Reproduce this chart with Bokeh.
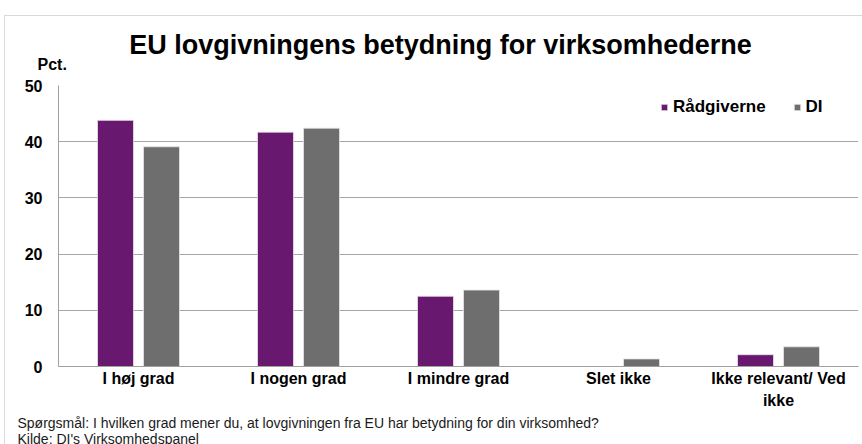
from bokeh.plotting import figure
from bokeh.models import (Range1d, FactorRange, Legend, LegendItem, Title,
                          FixedTicker, ColumnDataSource)
from bokeh.transform import dodge
from bokeh.embed import file_html
from bokeh.resources import INLINE

# ---- data ----
categories = ["I høj grad", "I nogen grad", "I mindre grad", "Slet ikke",
              "Ikke relevant/ Ved\nikke"]
raadgiverne = [43.8, 41.7, 12.5, 0.0, 2.1]
di = [39.1, 42.4, 13.6, 1.35, 3.5]
series_names = ["Rådgiverne", "DI"]
y_ticks = [0, 10, 20, 30, 40, 50]
title_text = "EU lovgivningens betydning for virksomhederne"
y_unit_text = "Pct."
footnotes = ["Spørgsmål: I hvilken grad mener du, at lovgivningen fra EU har betydning for din virksomhed?",
             "Kilde: DI's Virksomhedspanel"]

PURPLE = "#68196F"
GREY = "#6E6E6E"
FONT = "Liberation Sans"

# figure sits at page (-8, -8) so that it covers the whole 862x444 window
OFF = 8
W, H = 862 + OFF, 444 + OFF
FL, FR, FT, FB = 58 + OFF, 858 + OFF, 85 + OFF, 367 + OFF  # frame edges in figure px

source = ColumnDataSource(dict(cat=categories, r=raadgiverne, d=di))

p = figure(x_range=FactorRange(*categories), y_range=Range1d(0, 50),
           width=W, height=H, output_backend="svg", toolbar_location=None,
           min_border_left=FL, min_border_right=W - FR,
           min_border_top=FT, min_border_bottom=H - FB,
           title=title_text)
p.margin = (-8, -8, -8, -8)
p.outline_line_color = None
p.background_fill_color = "white"
p.border_fill_color = "white"
p.border_fill_alpha = 0
p.styles = {"background": "linear-gradient(#D9D9D9,#D9D9D9) 12px 23px/1px 100% no-repeat, "
                          "linear-gradient(#D9D9D9,#D9D9D9) 12px 23px/100% 1px no-repeat, white"}

xs = (FR - FL) / len(categories)
bw = 36 / xs
off = 23 / xs
r1 = p.vbar(x=dodge("cat", -off, range=p.x_range), top="r", width=bw, source=source,
            fill_color=PURPLE, line_color="#E6E6E6", line_width=0.8)
r2 = p.vbar(x=dodge("cat", off, range=p.x_range), top="d", width=bw, source=source,
            fill_color=GREY, line_color="#E6E6E6", line_width=0.8)

# axes
p.yaxis.ticker = FixedTicker(ticks=y_ticks)
p.yaxis.major_tick_line_color = None
p.yaxis.major_tick_out = 0
p.yaxis.major_tick_in = 0
p.yaxis.minor_tick_line_color = None
p.yaxis.axis_line_color = "#A0A0A0"
p.yaxis.major_label_text_font = FONT
p.yaxis.major_label_text_font_style = "bold"
p.yaxis.major_label_text_font_size = "16px"
p.yaxis.major_label_text_color = "black"
p.yaxis.major_label_standoff = 16

p.xaxis.major_tick_line_color = None
p.xaxis.major_tick_out = 0
p.xaxis.major_tick_in = 0
p.xaxis.axis_line_color = "#A0A0A0"
p.xaxis.major_label_text_font = FONT
p.xaxis.major_label_text_font_style = "bold"
p.xaxis.major_label_text_font_size = "16px"
p.xaxis.major_label_text_color = "black"
p.xaxis.major_label_standoff = 3
p.xaxis.major_label_text_line_height = 1.35

p.xgrid.grid_line_color = None
p.ygrid.grid_line_color = "#A6A6A6"
p.ygrid.grid_line_width = 1

# main title (outer panel), "Pct." (inner panel)
title_font_px = 27
title_w = 23.06 * title_font_px
p.title.align = "left"
p.title.offset = 440 - title_w / 2 - 58
p.title.standoff = -31
p.title.vertical_align = "bottom"
p.title.text_font = FONT
p.title.text_font_style = "bold"
p.title.text_font_size = f"{title_font_px}px"
p.title.text_color = "black"

p.add_layout(Title(text=y_unit_text, align="left", offset=37 - 58, standoff=22,
                   vertical_align="top", text_font=FONT, text_font_style="bold",
                   text_font_size="16px", text_color="black"), "above")

for t, s in zip(footnotes, [0, -4.5]):
    p.add_layout(Title(text=t, align="left", offset=17 - 58, standoff=s,
                       text_font=FONT, text_font_style="normal",
                       text_font_size="14px", text_color="#1A1A1A"), "below")

legend = Legend(items=[LegendItem(label=series_names[0], renderers=[r1]),
                       LegendItem(label=series_names[1], renderers=[r2])],
                orientation="horizontal", location=(660 - 58, 367 - 118),
                glyph_width=8, glyph_height=8, label_standoff=5, spacing=27,
                padding=0, margin=0, border_line_color=None,
                background_fill_color=None, background_fill_alpha=0,
                label_text_font=FONT, label_text_font_style="bold",
                label_text_font_size="17px", label_text_color="black")
p.add_layout(legend)

open("out.html", "w").write(file_html(p, INLINE))
